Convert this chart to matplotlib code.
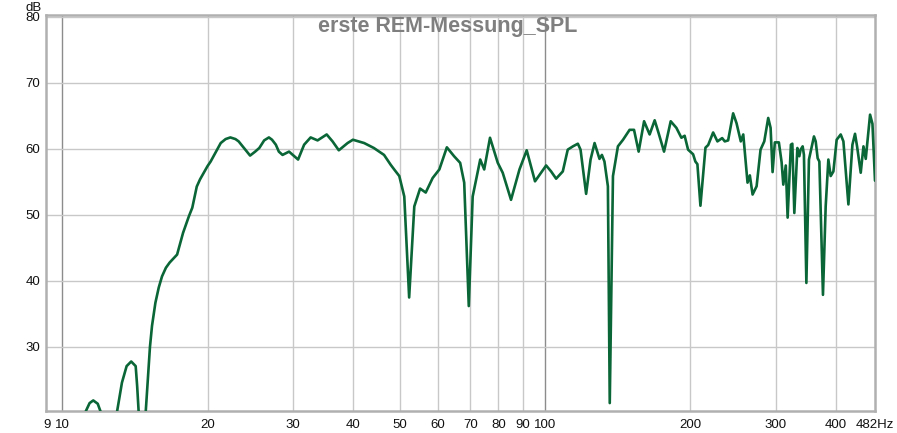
import matplotlib
matplotlib.use("Agg")
import matplotlib.pyplot as plt
from matplotlib.ticker import FixedLocator, FixedFormatter, NullLocator

plt.rcParams['font.family'] = ['Liberation Sans', 'DejaVu Sans']

freq_hz = [9.3, 10.5, 11.2, 11.4, 11.6, 11.85, 12.0, 12.5, 13.0, 13.3, 13.6, 13.9,
           14.2, 14.3, 14.4, 14.6, 14.9, 15.2, 15.35, 15.6, 15.85, 16.1, 16.4, 16.7,
           17.3, 17.8, 18.3, 18.6, 19.0, 19.3, 20.0, 20.3, 21.3, 21.8, 22.3, 22.85,
           23.2, 23.8, 24.5, 25.1, 25.6, 26.2, 26.8, 27.2, 27.7, 28.1, 28.6, 29.5,
           30.8, 31.7, 32.7, 33.8, 35.3, 36.3, 37.4, 39.0, 40.0, 42.2, 44.2, 46.4,
           47.9, 48.7, 49.9, 51.1, 52.3, 53.6, 55.1, 56.6, 58.5, 60.4, 62.6, 64.8,
           66.7, 68.0, 69.5, 70.8, 73.4, 74.8, 76.9, 79.8, 81.7, 85.0, 88.5, 91.6,
           95.3, 100.5, 102.9, 105.4, 108.8, 111.4, 114.2, 116.9, 118.4, 121.6, 124.2,
           126.6, 129.6, 131.1, 132.7, 134.9, 136.1, 138.2, 141.5, 145.0, 149.6, 152.8,
           156.2, 160.3, 164.6, 168.6, 171.8, 176.3, 182.0, 187.0, 191.5, 194.5, 197.7,
           202.5, 204.7, 206.7, 209.7, 214.8, 217.6, 222.8, 227.4, 232.6, 235.5, 239.3,
           245.1, 249.1, 254.2, 257.2, 262.5, 265.4, 268.9, 274.1, 279.3, 284.3, 289.7,
           293.0, 295.8, 299.0, 304.8, 308.8, 311.3, 315.0, 317.8, 322.8, 325.0, 328.1,
           332.9, 336.0, 338.1, 341.4, 343.5, 347.5, 351.8, 360.3, 363.3, 366.7, 369.7,
           376.1, 381.0, 385.9, 390.2, 395.3, 401.5, 409.3, 414.6, 424.6, 432.8, 438.2,
           442.5, 450.3, 456.2, 461.2, 470.8, 476.2, 482.0]
spl_db = [5, 12, 20.3, 21.5, 21.9, 21.4, 20.3, 12, 20.3, 24.6, 27.1, 27.8,
          27.1, 24.1, 20.3, 12, 20.3, 30.0, 33.2, 36.7, 39.0, 40.7, 42.0, 42.8,
          44.0, 47.3, 49.8, 51.1, 54.3, 55.4, 57.4, 58.1, 60.9, 61.5, 61.75, 61.5,
          61.15, 60.15, 59.0, 59.6, 60.15, 61.3, 61.75, 61.4, 60.65, 59.6, 59.1, 59.6,
          58.4, 60.65, 61.75, 61.3, 62.2, 61.15, 59.8, 60.9, 61.4, 60.9, 60.15, 59.1,
          57.6, 56.9, 55.9, 52.8, 37.5, 51.3, 54.0, 53.4, 55.6, 56.9, 60.25, 58.9,
          57.9, 54.9, 36.2, 52.8, 58.4, 56.9, 61.7, 57.9, 56.4, 52.3, 56.9, 59.8,
          55.1, 57.5, 56.6, 55.5, 56.6, 59.9, 60.4, 60.8, 59.9, 53.2, 58.4,
          60.9, 58.5, 59.1, 58.1, 54.35, 21.5, 55.9, 60.4, 61.4, 62.9, 62.9,
          59.6, 64.2, 62.2, 64.35, 62.4, 59.6, 64.2, 63.2, 61.7, 62.0, 59.9,
          59.2, 58.1, 57.7, 51.4, 60.2, 60.6, 62.5, 61.15, 61.65, 61.15, 61.3,
          65.4, 63.9, 61.15, 62.2, 54.9, 56.0, 53.1, 54.35, 59.9, 61.15, 64.7,
          63.2, 56.5, 61.0, 61.0, 58.0, 54.6, 57.5, 49.6, 60.65, 60.8, 50.3,
          60.15, 58.9, 59.9, 60.4, 59.1, 39.7, 58.4, 61.9, 61.15, 58.6, 58.1,
          37.9, 51.3, 58.4, 55.9, 56.6, 61.4, 62.2, 61.15, 51.6, 60.65, 62.3,
          60.4, 56.4, 60.4, 58.5, 65.2, 63.8, 55.2]

x_grid = [10, 20, 30, 40, 50, 60, 70, 80, 90, 100, 200, 300, 400]
x_ticks = [9.3, 10, 20, 30, 40, 50, 60, 70, 80, 90, 100, 200, 300, 400, 482]
x_labels = ['9', '10', '20', '30', '40', '50', '60', '70', '80', '90', '100',
            '200', '300', '400', '482Hz']
y_ticks = [30, 40, 50, 60, 70, 80]

fig = plt.figure(figsize=(8.97, 4.33), dpi=100)
ax = fig.add_axes([46 / 897, 1 - 411 / 433, (875 - 46) / 897, (411 - 15) / 433])

ax.set_xscale('log')
ax.set_xlim(9.26, 482)
ax.set_ylim(20.3, 80.3)

# grid lines by hand so the decades can be darker
for f in x_grid:
    col = '#8c8c8c' if f in (10, 100) else '#c8c8c8'
    ax.axvline(f, color=col, lw=1.0, zorder=1)
for v in y_ticks:
    ax.axhline(v, color='#c8c8c8', lw=1.0, zorder=1)

ax.plot(freq_hz, spl_db, color='#0a6636', lw=1.9, zorder=3,
        solid_joinstyle='round', solid_capstyle='round')

ax.xaxis.set_major_locator(FixedLocator(x_ticks))
ax.xaxis.set_major_formatter(FixedFormatter(x_labels))
ax.xaxis.set_minor_locator(NullLocator())
ax.set_yticks(y_ticks)
ax.tick_params(axis='both', length=0, labelsize=9.5, colors='#111111')
ax.tick_params(axis='x', pad=6)
ax.tick_params(axis='y', pad=4)

for s in ax.spines.values():
    s.set_color('#b0b0b0')
    s.set_linewidth(1.8)

# title sits a little left of the plot centre in the original
fig.text(448 / 897, 1 - 16 / 433, 'erste REM-Messung_SPL',
         ha='center', va='top', fontsize=15.5, fontweight='bold', color='#7f7f7f')
fig.text(42 / 897, 1 - 2 / 433, 'dB', ha='right', va='top', fontsize=9.5,
         color='#111111')

fig.savefig('out.png', dpi=100)
